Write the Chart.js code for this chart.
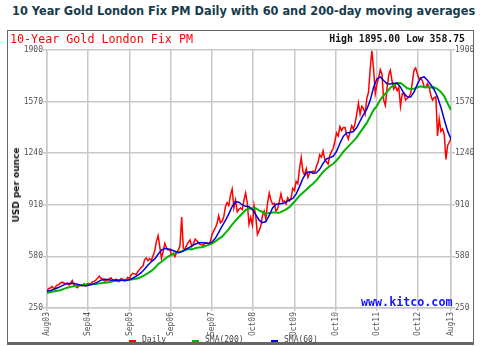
<!DOCTYPE html>
<html>
<head>
<meta charset="utf-8">
<script src="https://cdn.jsdelivr.net/npm/chart.js@4"></script>
<style>
  html, body { margin: 0; padding: 0; background: #fff; }
  #wrap { position: relative; width: 480px; height: 346px; overflow: hidden; }
  #chart { position: absolute; left: 0; top: 0; }
  #title { position: absolute; left: 12px; top: 3px; font: bold 13px "DejaVu Sans", sans-serif; color: #183c4c; white-space: nowrap; transform-origin: 0 0; }
  #frame { position: absolute; left: 7px; top: 30px; width: 465px; height: 311px; border: 1px solid #666; border-bottom: 3px solid #666; }
  #sub { position: absolute; left: 10px; top: 32px; font: 11.7px "DejaVu Sans Mono", monospace; color: #ff0000; white-space: nowrap; }
  #hilo { position: absolute; right: 15px; top: 33px; font: bold 9.8px "DejaVu Sans Mono", monospace; color: #111; white-space: nowrap; }
  #yname { position: absolute; left: 16px; top: 185px; font: bold 9px "DejaVu Sans", sans-serif; color: #111; white-space: nowrap; transform: translate(-50%, -50%) rotate(-90deg); }
  #kitco { position: absolute; left: 361px; top: 295px; font: bold 11.7px "DejaVu Sans Mono", monospace; color: #1414ff; white-space: nowrap; }
  .lg { position: absolute; top: 335px; font: 8px "DejaVu Sans Mono", monospace; color: #444; white-space: nowrap; }
  .dash { position: absolute; top: 340px; width: 7px; height: 2px; }
</style>
</head>
<body>
<div id="wrap">
  <div id="title">10 Year Gold London Fix PM Daily with 60 and 200-day moving averages</div>
  <div id="frame"></div>
  <canvas id="chart" width="480" height="346"></canvas>
  <div id="sub">10-Year Gold London Fix PM</div>
  <div id="hilo">High 1895.00 Low 358.75</div>
  <div id="yname">USD per ounce</div>
  <div id="kitco">www.kitco.com</div>
  <div class="dash" style="left:129px;background:#ff0000"></div>
  <div class="lg" style="left:142px">Daily</div>
  <div class="dash" style="left:192px;background:#00b400"></div>
  <div class="lg" style="left:205px">SMA(200)</div>
  <div class="dash" style="left:271px;background:#0000dd"></div>
  <div class="lg" style="left:284px">SMA(60)</div>
</div>
<script>
// x axis is in trading days from the first fix (mid Aug 2003)
const lastDay = 2450;
const tickDays = [0, 250, 500, 750, 1000, 1250, 1500, 1750, 2000, 2250, 2450];
const tickLabels = ["Aug03", "Sep04", "Sep05", "Sep06", "Sep07", "Oct08", "Oct09", "Oct10", "Oct11", "Oct12", "Aug13"];
const yTicks = [250, 580, 910, 1240, 1570, 1900];

// daily fix, read about twice a month (Aug 2003 .. Aug 2013)
const dailyFix = [
  359, 375, 378, 388, 372, 385, 397, 398, 410,
  415, 410, 404, 410, 397, 404, 426, 400, 388, 380, 392, 394, 394, 405, 391, 405, 406, 404, 418, 420, 428, 441, 454, 440,
  438, 422, 422, 428, 436, 443, 428, 430, 434, 420, 420, 438, 435, 421, 429, 446, 438, 461, 472, 468, 464, 484, 497, 510,
  518, 560, 570, 552, 566, 554, 584, 614, 676, 712, 642, 568, 613, 663, 634, 621, 626, 587, 599, 578, 605, 620, 646, 832,
  632, 628, 652, 671, 685, 644, 662, 691, 680, 667, 656, 654, 650, 666, 667, 662, 672, 718, 743, 762, 790, 841, 795, 805,
  833, 898, 924, 905, 972, 1011, 890, 940, 865, 880, 890, 880, 940, 985, 920, 786, 830, 780, 905, 840, 720, 745, 775, 840,
  870, 820, 920, 985, 940, 915, 920, 870, 885, 930, 980, 930, 935, 915, 955, 935, 955, 1015, 1000, 1060, 1045, 1140, 1212, 1125,
  1100, 1140, 1085, 1115, 1120, 1125, 1115, 1155, 1180, 1230, 1215, 1255, 1200, 1185, 1170, 1225, 1250, 1270, 1315, 1370, 1350, 1410, 1385, 1405,
  1405, 1360, 1330, 1375, 1415, 1395, 1430, 1490, 1560, 1490, 1540, 1525, 1490, 1590, 1630, 1780, 1895, 1780, 1620, 1680, 1720, 1775, 1745, 1580,
  1545, 1655, 1740, 1770, 1700, 1650, 1670, 1640, 1660, 1540, 1620, 1625, 1580, 1590, 1600, 1620, 1690, 1770, 1785, 1750, 1715, 1720, 1705, 1665,
  1660, 1685, 1665, 1610, 1580, 1595, 1600, 1350, 1460, 1380, 1395, 1360, 1200, 1290, 1310, 1335
];

// 60-day moving average, read once a month
const sma60 = [
  357, 362, 368, 378, 387,
  398, 406, 409, 407, 402, 396, 392, 394, 399, 405, 415, 428,
  434, 432, 428, 428, 429, 428, 427, 428, 435, 447, 461, 476,
  499, 525, 546, 564, 594, 621, 631, 628, 621, 613, 604, 609,
  621, 635, 646, 658, 667, 667, 665, 662, 671, 696, 734, 773,
  810, 852, 899, 930, 927, 909, 900, 897, 879, 847, 812, 796,
  803, 842, 890, 914, 917, 918, 929, 940, 951, 978, 1026, 1078,
  1114, 1121, 1112, 1114, 1137, 1175, 1203, 1212, 1220, 1251, 1302, 1348,
  1370, 1373, 1379, 1404, 1446, 1487, 1521, 1578, 1660, 1716, 1728, 1705,
  1684, 1683, 1687, 1689, 1662, 1623, 1601, 1599, 1630, 1680, 1722, 1728,
  1706, 1678, 1646, 1600, 1534, 1456, 1381, 1330
];

// 200-day moving average, read once a month
const sma200 = [
  346, 352, 356, 360, 364,
  372, 380, 385, 389, 393, 396, 398, 400, 402, 403, 405, 409,
  411, 413, 418, 422, 424, 427, 429, 431, 432, 435, 440, 449,
  461, 473, 487, 505, 530, 546, 563, 579, 592, 599, 607, 614,
  622, 627, 625, 633, 637, 639, 646, 654, 662, 675, 692, 706,
  730, 754, 784, 809, 832, 854, 877, 885, 888, 888, 875, 864,
  853, 857, 860, 860, 859, 870, 881, 895, 918, 941, 968, 987,
  1006, 1027, 1045, 1066, 1093, 1121, 1141, 1158, 1172, 1193, 1219, 1248,
  1272, 1295, 1317, 1341, 1373, 1404, 1434, 1475, 1516, 1543, 1581, 1609,
  1632, 1659, 1676, 1688, 1689, 1673, 1655, 1651, 1652, 1661, 1668, 1662,
  1662, 1660, 1661, 1650, 1632, 1604, 1558, 1516
];

function toPoints(values) {
  const step = lastDay / (values.length - 1);
  return values.map((v, i) => ({ x: i * step, y: v }));
}

// squeeze the title to the width it has in the original
const title = document.getElementById("title");
title.style.transform = "scaleX(" + (463 / title.offsetWidth) + ")";

const gridColor = "#c8c8c8";
const tickFont = { family: "DejaVu Sans Mono", size: 8 };

new Chart(document.getElementById("chart"), {
  type: "line",
  data: {
    datasets: [
      { label: "SMA(60)", data: toPoints(sma60), borderColor: "#0000dd", borderWidth: 1.5 },
      { label: "SMA(200)", data: toPoints(sma200), borderColor: "#00b400", borderWidth: 2 },
      { label: "Daily", data: toPoints(dailyFix), borderColor: "#ff0000", borderWidth: 1.5 },
    ],
  },
  options: {
    responsive: false,
    devicePixelRatio: 1,
    animation: false,
    parsing: false,
    elements: { point: { radius: 0 }, line: { tension: 0 } },
    layout: { padding: { left: 7, right: 0, top: 50, bottom: 8 } },
    plugins: { legend: { display: false }, tooltip: { enabled: false } },
    scales: {
      x: {
        type: "linear",
        min: 0,
        max: lastDay,
        afterBuildTicks: (axis) => { axis.ticks = tickDays.map((v) => ({ value: v })); },
        afterFit: (axis) => { axis.height = 30; },
        ticks: {
          autoSkip: false,
          minRotation: 90,
          maxRotation: 90,
          padding: 1,
          color: "#555",
          font: tickFont,
          callback: (v) => tickLabels[tickDays.indexOf(v)],
        },
        grid: { color: gridColor, lineWidth: 1.5, tickLength: 3 },
        border: { color: gridColor, width: 1.5 },
      },
      y: {
        position: "left",
        min: 250,
        max: 1900,
        afterBuildTicks: (axis) => { axis.ticks = yTicks.map((v) => ({ value: v })); },
        afterFit: (axis) => { axis.width = 40; },
        ticks: { padding: 0, color: "#555", font: tickFont, callback: (v) => String(v) },
        grid: { color: gridColor, lineWidth: 1.5, tickLength: 4 },
        border: { color: gridColor, width: 1.5 },
      },
      y2: {
        position: "right",
        min: 250,
        max: 1900,
        afterBuildTicks: (axis) => { axis.ticks = yTicks.map((v) => ({ value: v })); },
        afterFit: (axis) => { axis.width = 29; },
        ticks: { padding: 0, color: "#555", font: tickFont, callback: (v) => String(v) },
        grid: { drawOnChartArea: false, color: gridColor, lineWidth: 1.5, tickLength: 4 },
        border: { color: gridColor, width: 1.5 },
      },
    },
  },
});
</script>
</body>
</html>
